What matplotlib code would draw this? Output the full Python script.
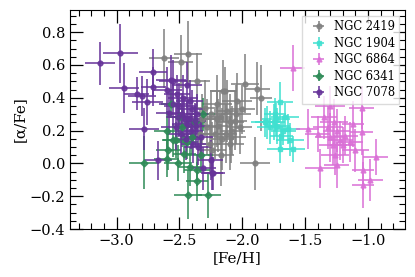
import numpy as np
import matplotlib
matplotlib.use('Agg')
import matplotlib.pyplot as plt
from matplotlib.ticker import MultipleLocator

# NGC 2419
n2419_feh = [-2.62, -2.49, -2.43, -2.36, -2.15, -2.14, -2.04, -1.98, -1.88, -1.85, -1.90, -2.30,
             -2.25, -2.20, -2.18, -2.12, -2.10, -2.08, -2.05, -2.02, -2.28, -2.22, -2.16, -2.10,
             -2.06, -2.32, -2.26, -2.19, -2.13, -2.00, -2.24, -2.17, -2.09, -2.34, -2.20]
n2419_afe = [0.64, 0.62, 0.665, 0.50, 0.44, 0.44, 0.38, 0.485, 0.455, 0.40, 0.00, 0.34,
             0.30, 0.36, 0.28, 0.32, 0.25, 0.20, 0.30, 0.22, 0.22, 0.18, 0.15, 0.12,
             0.26, 0.27, 0.12, 0.23, 0.18, 0.33, 0.08, 0.05, 0.16, 0.18, 0.27]
n2419_xerr = [0.12, 0.10, 0.11, 0.10, 0.11, 0.10, 0.12, 0.11, 0.10, 0.09, 0.12, 0.10,
              0.11, 0.12, 0.10, 0.09, 0.11, 0.10, 0.12, 0.10, 0.11, 0.10, 0.09, 0.11,
              0.10, 0.12, 0.10, 0.11, 0.09, 0.10, 0.11, 0.10, 0.12, 0.10, 0.11]
n2419_yerr = [0.18, 0.16, 0.20, 0.17, 0.19, 0.15, 0.17, 0.18, 0.16, 0.20, 0.16, 0.17,
              0.15, 0.18, 0.16, 0.19, 0.17, 0.15, 0.18, 0.16, 0.17, 0.15, 0.19, 0.16,
              0.18, 0.15, 0.17, 0.16, 0.18, 0.15, 0.17, 0.19, 0.16, 0.15, 0.17]

# NGC 1904
n1904_feh = [-1.70, -1.82, -1.74, -1.72, -1.70, -1.595, -1.62, -1.675, -1.75, -1.80, -1.66,
             -1.78, -1.69, -1.64, -1.73]
n1904_afe = [0.375, 0.25, 0.30, 0.23, 0.09, 0.09, 0.145, 0.20, 0.25, 0.25, 0.28,
             0.22, 0.17, 0.21, 0.27]
n1904_xerr = [0.10, 0.11, 0.09, 0.10, 0.10, 0.09, 0.11, 0.10, 0.09, 0.10, 0.11,
              0.10, 0.09, 0.10, 0.11]
n1904_yerr = [0.12, 0.09, 0.10, 0.11, 0.09, 0.08, 0.10, 0.09, 0.11, 0.10, 0.09,
              0.10, 0.08, 0.09, 0.10]

# NGC 6864
n6864_feh = [-1.60, -1.30, -1.05, -1.27, -1.48, -1.40, -1.30, -1.22, -1.25, -1.05, -1.14,
             -1.10, -0.94, -1.38, -1.25, -1.04, -0.98, -1.04, -1.28, -1.20, -1.32, -1.18,
             -1.12, -1.26, -1.35]
n6864_afe = [0.58, 0.35, 0.34, 0.25, 0.21, 0.18, 0.16, 0.14, 0.20, 0.19, 0.13,
             0.08, 0.04, -0.03, -0.01, -0.04, -0.10, -0.13, 0.11, 0.11, 0.22, 0.17,
             0.24, 0.05, 0.28]
n6864_xerr = [0.10, 0.12, 0.10, 0.11, 0.09, 0.10, 0.12, 0.10, 0.11, 0.09, 0.10,
              0.11, 0.10, 0.12, 0.10, 0.09, 0.10, 0.09, 0.11, 0.10, 0.12, 0.10,
              0.09, 0.11, 0.10]
n6864_yerr = [0.14, 0.12, 0.13, 0.14, 0.12, 0.11, 0.15, 0.12, 0.13, 0.14, 0.12,
              0.13, 0.11, 0.12, 0.14, 0.12, 0.13, 0.14, 0.12, 0.11, 0.13, 0.12,
              0.14, 0.12, 0.13]

# NGC 6341
n6341_feh = [-2.78, -2.43, -2.27, -2.36, -2.36, -2.51, -2.59, -2.44, -2.53, -2.57, -2.31,
             -2.60, -2.55, -2.60, -2.48, -2.40, -2.33, -2.46, -2.38, -2.50, -2.42]
n6341_afe = [0.005, -0.19, -0.19, -0.11, -0.04, 0.0, 0.08, 0.13, 0.145, 0.365, 0.30,
             0.20, 0.14, 0.03, 0.22, 0.16, 0.05, 0.06, 0.25, 0.28, -0.02]
n6341_xerr = [0.12, 0.11, 0.10, 0.09, 0.10, 0.11, 0.10, 0.09, 0.10, 0.08, 0.09,
              0.10, 0.09, 0.10, 0.08, 0.09, 0.10, 0.09, 0.08, 0.10, 0.09]
n6341_yerr = [0.16, 0.15, 0.14, 0.12, 0.10, 0.11, 0.12, 0.10, 0.11, 0.09, 0.10,
              0.12, 0.10, 0.11, 0.12, 0.10, 0.11, 0.12, 0.10, 0.11, 0.12]

# NGC 7078
n7078_feh = [-3.13, -2.97, -2.94, -2.84, -2.80, -2.755, -2.71, -2.71, -2.785, -2.67, -2.57,
             -2.25, -2.23, -2.35, -2.31, -2.24, -2.60, -2.55, -2.52, -2.50, -2.48, -2.46,
             -2.44, -2.42, -2.40, -2.38, -2.58, -2.53, -2.49, -2.45, -2.43, -2.41, -2.37,
             -2.33, -2.47, -2.39, -2.55, -2.51, -2.44, -2.36]
n7078_afe = [0.61, 0.67, 0.46, 0.425, 0.41, 0.375, 0.557, 0.467, 0.21, 0.018, 0.51,
             0.02, -0.06, 0.10, -0.03, -0.06, 0.45, 0.50, 0.42, 0.35, 0.30, 0.28,
             0.24, 0.38, 0.33, 0.26, 0.31, 0.22, 0.18, 0.15, 0.27, 0.20, 0.23,
             0.16, 0.40, 0.12, 0.36, 0.28, 0.48, 0.30]
n7078_xerr = [0.12, 0.14, 0.12, 0.10, 0.11, 0.12, 0.11, 0.10, 0.12, 0.11, 0.12,
              0.10, 0.09, 0.11, 0.10, 0.09, 0.12, 0.11, 0.10, 0.12, 0.11, 0.10,
              0.12, 0.11, 0.10, 0.09, 0.11, 0.12, 0.10, 0.11, 0.09, 0.10, 0.11,
              0.10, 0.12, 0.10, 0.11, 0.10, 0.12, 0.09]
n7078_yerr = [0.13, 0.18, 0.15, 0.10, 0.12, 0.14, 0.14, 0.12, 0.13, 0.12, 0.15,
              0.12, 0.10, 0.11, 0.13, 0.10, 0.14, 0.13, 0.12, 0.14, 0.13, 0.12,
              0.14, 0.13, 0.12, 0.11, 0.13, 0.14, 0.12, 0.13, 0.12, 0.11, 0.13,
              0.12, 0.14, 0.12, 0.13, 0.12, 0.14, 0.12]

clusters = [
    ('NGC 2419', n2419_feh, n2419_afe, n2419_xerr, n2419_yerr, 'gray', 'o'),
    ('NGC 1904', n1904_feh, n1904_afe, n1904_xerr, n1904_yerr, 'turquoise', 's'),
    ('NGC 6864', n6864_feh, n6864_afe, n6864_xerr, n6864_yerr, 'orchid', '^'),
    ('NGC 6341', n6341_feh, n6341_afe, n6341_xerr, n6341_yerr, 'seagreen', 'D'),
    ('NGC 7078', n7078_feh, n7078_afe, n7078_xerr, n7078_yerr, 'rebeccapurple', 'o'),
]

plt.rcParams['font.family'] = 'DejaVu Serif'
plt.rcParams['mathtext.fontset'] = 'dejavuserif'

fig, ax = plt.subplots(figsize=(4.15, 2.77), dpi=100)
fig.subplots_adjust(left=0.169, right=0.976, bottom=0.173, top=0.964)

for name, x, y, xe, ye, col, mk in clusters:
    ax.errorbar(x, y, xerr=xe, yerr=ye, fmt=mk, color=col, ecolor=col,
                ms=3.5, elinewidth=1.3, capsize=0, alpha=0.85, label=name)

ax.set_xlim(-3.37, -0.705)
ax.set_ylim(-0.4, 0.935)
ax.xaxis.set_major_locator(MultipleLocator(0.5))
ax.xaxis.set_minor_locator(MultipleLocator(0.1))
ax.yaxis.set_major_locator(MultipleLocator(0.2))
ax.yaxis.set_minor_locator(MultipleLocator(0.05))
ax.tick_params(which='both', direction='in', top=True, right=True, labelsize=10.5)
ax.tick_params(which='major', length=9, width=0.9)
ax.tick_params(which='minor', length=4, width=0.8)

ax.set_xlabel('[Fe/H]', fontsize=11, labelpad=2)
ax.set_ylabel('[α/Fe]', fontsize=11, labelpad=2)

leg = ax.legend(loc='upper right', fontsize=8.3, frameon=True, fancybox=False,
                handletextpad=0.3, borderpad=0.4, labelspacing=0.3)
leg.get_frame().set_edgecolor('lightgray')

fig.savefig('out.png', dpi=100)
